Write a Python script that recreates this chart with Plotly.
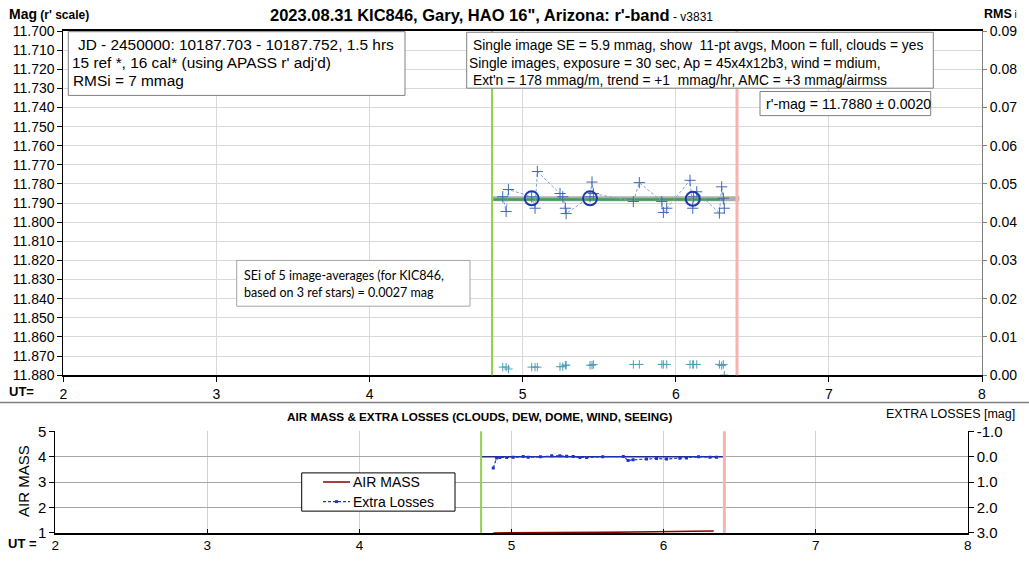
import plotly.graph_objects as go

# ---------------- data ----------------
ut = [4.870, 4.892, 4.907, 5.059, 5.081, 5.096, 5.244, 5.262, 5.279, 5.284,
      5.440, 5.453, 5.462, 5.723, 5.762, 5.909, 5.919, 5.941, 6.093, 6.111,
      6.115, 6.137, 6.285, 6.300, 6.311, 6.317]
mag = [11.7867, 11.7944, 11.7829, 11.7867, 11.7927, 11.7735, 11.7850, 11.7867, 11.7927, 11.7955,
       11.7867, 11.7790, 11.7850, 11.7892, 11.7793, 11.7892, 11.7949, 11.7927, 11.7781, 11.7927,
       11.7867, 11.7841, 11.7952, 11.7815, 11.7875, 11.7927]
rms = [0.0021, 0.0021, 0.0016, 0.0021, 0.0021, 0.0021, 0.0022, 0.0022, 0.0026, 0.0026,
       0.0026, 0.0026, 0.0028, 0.0028, 0.0028, 0.0028, 0.0028, 0.0028, 0.0028, 0.0028,
       0.0028, 0.0028, 0.0028, 0.0025, 0.0028, 0.0000]
avg_ut = [5.059, 5.440, 6.111]
avg_mag = [11.7875, 11.7875, 11.7878]
mean_ut = [4.80, 6.415]
mean_mag = [11.7877, 11.7877]
trend_ut = [4.81, 6.32]
trend_mag = [11.7881, 11.7881]
start_ut = 4.80
end_ut = 6.40

am_ut = [4.88, 5.00, 5.20, 5.40, 5.60, 5.80, 6.00, 6.20, 6.33]
airmass = [1.005, 1.005, 1.010, 1.015, 1.025, 1.035, 1.050, 1.065, 1.075]
el_ut = [4.880, 4.902, 4.924, 4.968, 5.011, 5.077, 5.110, 5.190, 5.264, 5.318, 5.362, 5.406,
         5.450, 5.494, 5.600, 5.735, 5.767, 5.800, 5.888, 5.954, 6.020, 6.107, 6.151, 6.230,
         6.305, 6.348]
extra_loss = [0.44, 0.05, 0.03, 0.03, 0.02, -0.01, 0.02, 0.00, -0.04, -0.04, -0.02, -0.01,
              0.03, 0.03, 0.00, -0.01, 0.15, 0.12, 0.09, 0.07, 0.09, 0.06, 0.05, 0.00,
              0.02, 0.02]
zero_ut = [4.80, 6.40]
zero_loss = [0.0, 0.0]

el_tickvals = [-1, 0, 1, 2, 3]
el_ticktext = ["-1.0", "0.0", "1.0", "2.0", "3.0"]

# ---------------- layout helpers ----------------
W, H = 1029, 565
ML, MR, MT, MB = 55, 47, 31, 22
PW, PH = W - ML - MR, H - MT - MB
FONT = "Liberation Sans, Arial, sans-serif"

AM_COLOR = "#8B0000"
EL_COLOR = "#2233CC"


def px(x):
    return (x - ML) / PW


def py(y):
    return 1 - (y - MT) / PH


def dom(a, b):
    return [min(1.0, max(0.0, a)), min(1.0, max(0.0, b))]


fig = go.Figure()

# top chart traces
fig.add_trace(go.Scatter(x=mean_ut, y=mean_mag, mode="lines",
                         line=dict(color="rgba(160,160,160,0.85)", width=5),
                         showlegend=False, xaxis="x", yaxis="y"))
fig.add_trace(go.Scatter(x=trend_ut, y=trend_mag, mode="lines",
                         line=dict(color="#3F9E5A", width=2.5),
                         showlegend=False, xaxis="x", yaxis="y"))
fig.add_trace(go.Scatter(x=ut, y=mag, mode="lines+markers",
                         line=dict(color="#7FA3D6", width=1, dash="3px,2px"),
                         marker=dict(symbol="cross-thin", size=8, color="#3F66C0",
                                     line=dict(color="#3F66C0", width=1)),
                         showlegend=False, xaxis="x", yaxis="y"))
fig.add_trace(go.Scatter(x=avg_ut, y=avg_mag, mode="markers",
                         marker=dict(symbol="circle-open", size=14, color="#1C3AA6",
                                     line=dict(color="#1C3AA6", width=2)),
                         showlegend=False, xaxis="x", yaxis="y"))
fig.add_trace(go.Scatter(x=ut, y=rms, mode="markers",
                         marker=dict(symbol="cross-thin", size=6, color="#4E9DB8",
                                     line=dict(color="#4E9DB8", width=1)),
                         showlegend=False, xaxis="x", yaxis="y2"))

# lower chart traces
fig.add_trace(go.Scatter(x=am_ut, y=airmass, mode="lines", name="AIR MASS",
                         line=dict(color=AM_COLOR, width=1.5),
                         showlegend=False, xaxis="x2", yaxis="y3"))
fig.add_trace(go.Scatter(x=zero_ut, y=zero_loss, mode="lines",
                         line=dict(color="#1F2A8A", width=1.5),
                         showlegend=False, xaxis="x2", yaxis="y4"))
fig.add_trace(go.Scatter(x=el_ut, y=extra_loss, mode="lines+markers", name="Extra Losses",
                         line=dict(color=EL_COLOR, width=1.2, dash="3px,2px"),
                         marker=dict(symbol="square", size=3, color=EL_COLOR),
                         showlegend=False, xaxis="x2", yaxis="y4"))

axis_font = dict(family=FONT, size=14, color="black")

fig.update_layout(
    width=W, height=H, autosize=False,
    margin=dict(l=ML, r=MR, t=MT, b=MB),
    paper_bgcolor="white", plot_bgcolor="white",
    font=dict(family=FONT, color="black"),
    showlegend=False,
    xaxis=dict(domain=dom(px(63.3), px(982)), range=[2, 8], dtick=1, tick0=2,
               showgrid=True, gridcolor="#D9D9D9", gridwidth=1,
               showline=True, linecolor="black", linewidth=1.5, mirror=True,
               ticks="outside", ticklen=5, tickcolor="black",
               tickfont=axis_font, zeroline=False, anchor="y"),
    yaxis=dict(domain=dom(py(382), py(31)), range=[11.88, 11.70], dtick=0.01, tick0=11.70,
               tickformat=".3f", showgrid=True, gridcolor="#D9D9D9",
               showline=True, linecolor="black", linewidth=1,
               ticks="outside", ticklen=5, tickcolor="black",
               tickfont=axis_font, zeroline=False, anchor="x"),
    yaxis2=dict(overlaying="y", side="right", anchor="x", range=[0, 0.09], dtick=0.01,
                tick0=0, tickformat=".2f", showgrid=False,
                showline=True, linecolor="#808080", linewidth=1,
                ticks="outside", ticklen=4, tickcolor="#808080",
                tickfont=axis_font, zeroline=False),
    xaxis2=dict(domain=dom(px(55.3), px(967.7)), range=[2, 8], dtick=1, tick0=2,
                showgrid=True, gridcolor="#D0D0D0",
                showline=True, linecolor="black", linewidth=1.5,
                ticks="inside", ticklen=4, tickcolor="black", ticklabelstandoff=-1,
                tickfont=dict(family=FONT, size=13.5, color="black"),
                zeroline=False, anchor="y3"),
    yaxis3=dict(domain=dom(py(543), py(439.3)), range=[1, 5], dtick=1, tick0=1,
                showgrid=True, gridcolor="#A6A6A6",
                showline=True, linecolor="black", linewidth=1,
                ticks="outside", ticklen=5, tickcolor="black",
                tickfont=dict(family=FONT, size=15, color="black"),
                zeroline=False, anchor="x2"),
    yaxis4=dict(overlaying="y3", side="right", anchor="x2", range=[3, -1],
                tickvals=el_tickvals, ticktext=el_ticktext, showgrid=False,
                showline=True, linecolor="black", linewidth=1,
                ticks="outside", ticklen=5, tickcolor="black",
                tickfont=dict(family=FONT, size=15, color="black"), zeroline=False),
)

shapes = []
# start / end vertical markers
for xr, yr in (("x", "y domain"), ("x2", "y3 domain")):
    shapes.append(dict(type="line", xref=xr, yref=yr, x0=start_ut, x1=start_ut, y0=0, y1=1,
                       line=dict(color="#92D050", width=2), layer="above"))
    shapes.append(dict(type="line", xref=xr, yref=yr, x0=end_ut, x1=end_ut, y0=0, y1=1,
                       line=dict(color="#F5B3B3", width=3), layer="above"))
# separator between the charts
shapes.append(dict(type="line", xref="paper", yref="paper", x0=px(0), x1=px(W),
                   y0=py(410), y1=py(410), line=dict(color="#808080", width=1.5)))
# text boxes + legend box
boxes = [
    (68.3, 31.7, 405, 96.7, "#808080"),
    (466.7, 32.3, 933.3, 89.3, "#808080"),
    (760, 92.7, 930.7, 117.3, "#808080"),
    (236.7, 265, 470, 311.7, "#A6A6A6"),
    (301.7, 481.7, 455, 520.7, "black"),
]
for x0, y0, x1, y1, c in boxes:
    shapes.append(dict(type="rect", xref="paper", yref="paper",
                       x0=px(x0), x1=px(x1), y0=py(y1), y1=py(y0),
                       line=dict(color=c, width=1), fillcolor="white", layer="above"))
# legend samples
shapes.append(dict(type="line", xref="paper", yref="paper", x0=px(323), x1=px(350),
                   y0=py(491), y1=py(491), line=dict(color=AM_COLOR, width=1.5), layer="above"))
shapes.append(dict(type="line", xref="paper", yref="paper", x0=px(323), x1=px(350),
                   y0=py(511), y1=py(511), line=dict(color=EL_COLOR, width=1.2, dash="3px,2px"),
                   layer="above"))
shapes.append(dict(type="rect", xref="paper", yref="paper", x0=px(335), x1=px(338),
                   y0=py(512.5), y1=py(509.5), line=dict(width=0), fillcolor=EL_COLOR,
                   layer="above"))
fig.update_layout(shapes=shapes)


def label(text, x, y, size=15, anchor="left", family=FONT, angle=0, color="black"):
    fig.add_annotation(text=text, x=px(x), y=py(y), xref="paper", yref="paper",
                       xanchor=anchor, yanchor="middle", showarrow=False,
                       borderpad=0, borderwidth=0, textangle=angle,
                       font=dict(family=family, size=size, color=color))


NB = "\u00a0"
label("<b>2023.08.31 KIC846, Gary, HAO 16\", Arizona: r'-band</b>"
      "<span style='font-size:12px'> - v3831</span>", 270, 15, size=16.5)
label("<b>Mag</b><b><span style='font-size:12px'> (r' scale)</span></b>", 9, 14, size=14)
label("<b>RMS</b><span style='font-size:10px'> i</span>", 984, 14, size=12.5)
label("<b>UT=</b>", 9, 399, size=13)
label("<b>UT =</b>", 8, 554, size=13)

label("JD - 2450000: 10187.703 - 10187.752, 1.5 hrs", 78, 45, size=15.4)
label("15 ref *, 16 cal* (using APASS r' adj'd)", 72, 63.5, size=15.4)
label("RMSi = 7 mmag", 73, 81, size=15.4)

label("Single image SE = 5.9 mmag, show" + NB + NB + "11-pt avgs, Moon = full, clouds = yes",
      472.5, 46, size=13.8)
label("Single images, exposure = 30 sec, Ap = 45x4x12b3, wind = mdium,", 468.5, 64, size=13.8)
label("Ext'n = 178 mmag/m, trend = +1" + NB + NB + "mmag/hr, AMC = +3 mmag/airmss",
      472.5, 81, size=13.8)

label("r'-mag = 11.7880 ± 0.0020", 765.5, 105.5, size=14.2)

label("SEi of 5 image-averages (for KIC846,", 243.5, 280, size=12.5,
      family="Lato, Open Sans, sans-serif")
label("based on 3 ref stars) = 0.0027 mag", 243.5, 298, size=12.5,
      family="Lato, Open Sans, sans-serif")

label("<b>AIR MASS & EXTRA LOSSES (CLOUDS, DEW, DOME, WIND, SEEING)</b>", 287, 424, size=11.7)
label("EXTRA LOSSES [mag]", 886, 422, size=12.5)
label("AIR MASS", 23, 490, size=15, anchor="center", angle=-90)

# legend entries (text)
label("AIR MASS", 353, 491, size=14)
label("Extra Losses", 353, 511, size=14)

fig.write_html(
    "out.html",
    config={"displayModeBar": False},
    post_script=("document.documentElement.style.margin='0';"
                 "document.body.style.margin='0';"
                 "document.documentElement.style.overflow='hidden';"
                 "document.body.style.overflow='hidden';"),
)
